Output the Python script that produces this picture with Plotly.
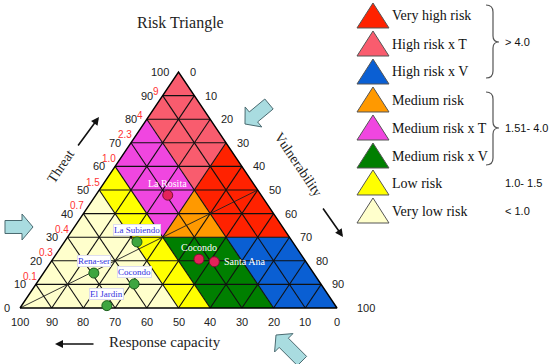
import math
import plotly.graph_objects as go

# ---------------- data ----------------
region_names = ["Very high risk", "High risk x T", "High risk x V", "Medium risk",
                "Medium risk x T", "Medium risk x V", "Low risk", "Very low risk"]
region_colors = ["#FF2200", "#F95C6E", "#0A5FD3", "#FF9900",
                 "#F046E0", "#007F00", "#FFFF00", "#FFFFCC"]
region_ranges = ["> 4.0", "", "", "1.51- 4.0", "", "", "1.0- 1.5", "< 1.0"]

# region polygons as (threat, vulnerability) vertices, in percent
very_high_T = [50, 70, 30, 30];   very_high_V = [30, 30, 70, 50]
high_t_T = [80, 100, 70, 50];     high_t_V = [0, 0, 30, 30]
high_v_T = [0, 30, 30, 0];        high_v_V = [80, 50, 70, 100]
medium_T = [30, 50, 30];          medium_V = [30, 30, 50]
medium_t_T = [60, 80, 50, 30];    medium_t_V = [0, 0, 30, 30]
medium_v_T = [0, 30, 30, 0];      medium_v_V = [60, 30, 50, 80]
low_T = [0, 0, 60, 50];           low_V = [50, 60, 0, 0]
very_low_T = [0, 0, 50];          very_low_V = [0, 50, 0]
region_T = [very_high_T, high_t_T, high_v_T, medium_T, medium_t_T, medium_v_T, low_T, very_low_T]
region_V = [very_high_V, high_t_V, high_v_V, medium_V, medium_t_V, medium_v_V, low_V, very_low_V]

threat_ticks = [0, 10, 20, 30, 40, 50, 60, 70, 80, 90, 100]
vuln_ticks = [0, 10, 20, 30, 40, 50, 60, 70, 80, 90, 100]
capacity_ticks = [100, 90, 80, 70, 60, 50, 40, 30, 20, 10, 0]
ratio_levels = [10, 20, 30, 40, 50, 60, 70, 80, 90]
ratio_labels = ["0.1", "0.3", "0.4", "0.7", "1.5", "1.0", "2.3", "4", "9"]

# diagonal reference line (threat = vulnerability)
ref_T = [0, 50]
ref_V = [0, 50]

site_names = ["La Rosita", "La Subiendo", "Rena-ser", "Cocondo", "El Jardin", "Cocondo", "Santa Ana"]
site_threat = [47.8, 28.0, 14.8, 10.2, 1.0, 20.7, 19.6]
site_vuln = [22.7, 22.9, 15.9, 30.9, 26.9, 46.1, 51.5]
site_group = ["red", "green", "green", "green", "green", "red", "red"]

# ---------------- helpers ----------------
W, H = 550, 364


def tx(t, v):
    return v + t / 2.0


def P(x, y):
    return f"{x / W:.5f},{1 - y / H:.5f}"


fig = go.Figure()

# regions
for name, col, T, V in zip(region_names, region_colors, region_T, region_V):
    xs = [tx(t, v) for t, v in zip(T, V)] + [tx(T[0], V[0])]
    ys = list(T) + [T[0]]
    fig.add_trace(go.Scatter(x=xs, y=ys, fill="toself", fillcolor=col, mode="lines",
                             line=dict(width=0, color=col), hoverinfo="skip", showlegend=False))

# grid
gx, gy = [], []
for k in threat_ticks[1:-1]:
    for (t0, v0, t1, v1) in [(k, 0, k, 100 - k), (0, k, 100 - k, k), (0, 100 - k, 100 - k, 0)]:
        gx += [tx(t0, v0), tx(t1, v1), None]
        gy += [t0, t1, None]
fig.add_trace(go.Scatter(x=gx, y=gy, mode="lines", line=dict(color="#111111", width=1.1),
                         hoverinfo="skip", showlegend=False))

# reference line
fig.add_trace(go.Scatter(x=[tx(t, v) for t, v in zip(ref_T, ref_V)], y=ref_T, mode="lines",
                         line=dict(color="#222222", width=0.9), hoverinfo="skip", showlegend=False))

# outline
fig.add_trace(go.Scatter(x=[tx(0, 0), tx(0, 100), tx(100, 0), tx(0, 0)], y=[0, 0, 100, 0],
                         mode="lines", line=dict(color="#000000", width=1.4),
                         hoverinfo="skip", showlegend=False))

# sites
for grp, fc, lc in [("green", "#3FA63F", "#1B5E1B"), ("red", "#E5235A", "#7A1030")]:
    idx = [i for i, g in enumerate(site_group) if g == grp]
    fig.add_trace(go.Scatter(x=[tx(site_threat[i], site_vuln[i]) for i in idx],
                             y=[site_threat[i] for i in idx], mode="markers",
                             marker=dict(size=10, color=fc, line=dict(color=lc, width=1)),
                             hoverinfo="skip", showlegend=False))

ann = []
# site labels
for i, nm in enumerate(site_names):
    x = tx(site_threat[i], site_vuln[i]); y = site_threat[i]
    if site_group[i] == "green":
        ann.append(dict(x=x, y=y, text=nm, showarrow=False, yshift=12,
                        xanchor="center", yanchor="middle",
                        font=dict(family="Liberation Serif", size=9, color="#3434E0"),
                        bgcolor="white", bordercolor="#DDDDEE", borderwidth=1, borderpad=0))
    else:
        if nm == "Santa Ana":
            ann.append(dict(x=x, y=y, text=nm, showarrow=False, xanchor="left", yanchor="middle",
                            xshift=8, font=dict(family="Liberation Serif", size=10, color="white")))
        else:
            ann.append(dict(x=x, y=y, text=nm, showarrow=False, yshift=12,
                            xanchor="center", yanchor="middle",
                            font=dict(family="Liberation Serif", size=10, color="white")))

tick_font = dict(family="Liberation Sans", size=11, color="#222222")
# threat ticks (left edge)
for t in threat_ticks:
    ann.append(dict(x=tx(t, 0), y=t, text=str(t), showarrow=False, xanchor="right",
                    yanchor="middle", xshift=-8, font=tick_font))
# vulnerability ticks (right edge)
for v in vuln_ticks:
    ann.append(dict(x=tx(100 - v, v), y=100 - v, text=str(v), showarrow=False, xanchor="left",
                    yanchor="middle", xshift=18 if v == 100 else 9, font=tick_font))
# capacity ticks (bottom)
for c in capacity_ticks:
    ann.append(dict(x=tx(0, 100 - c), y=0, text=str(c), showarrow=False, yshift=-14,
                    xanchor="center", yanchor="middle", font=tick_font))
# ratio labels
for lv, lab in zip(ratio_levels, ratio_labels):
    hi = lv >= 80
    ann.append(dict(x=tx(lv, 0), y=lv, text=lab, showarrow=False, xanchor="center",
                    yanchor="middle", xshift=-7 if hi else -6, yshift=4 if hi else 8,
                    font=dict(family="Liberation Sans", size=10, color="#FF3333")))

serif = "Liberation Serif"


def txt(x, y, s, size, angle=0, anchor="center", color="#222222", family=serif):
    return dict(xref="paper", yref="paper", x=x / W, y=1 - y / H, text=s, showarrow=False,
                xanchor=anchor, yanchor="middle", textangle=angle,
                font=dict(family=family, size=size, color=color))


ann.append(txt(180, 23, "Risk Triangle", 16))
ann.append(txt(61, 167, "Threat", 14, angle=-56))
ann.append(txt(298, 165, "Vulnerability", 14, angle=56))
ann.append(txt(165, 342, "Response capacity", 15))

# thin arrows
for (hx, hy, tlx, tly) in [(99, 117, 77, 147), (343, 237, 322, 207), (55, 344, 95, 344)]:
    ann.append(dict(xref="paper", yref="paper", x=hx / W, y=1 - hy / H, ax=tlx - hx, ay=tly - hy,
                    axref="pixel", ayref="pixel", text="", showarrow=True, arrowhead=2,
                    arrowsize=1, arrowwidth=1.6, arrowcolor="#111111"))

# legend
leg_y = [16, 44, 72, 100, 128, 156, 183, 211]
shapes = []
for name, col, rng, yy in zip(region_names, region_colors, region_ranges, leg_y):
    shapes.append(dict(type="path", xref="paper", yref="paper",
                       path=f"M {P(357, yy + 12)} L {P(373, yy - 13)} L {P(389, yy + 12)} Z",
                       fillcolor=col, line=dict(color="#555555", width=1)))
    ann.append(txt(390, yy, name, 14, anchor="left", color="#111111"))
    if rng:
        ry = {"> 4.0": 42, "1.51- 4.0": 128}.get(rng, yy)
        ann.append(txt(503, ry, rng, 11, anchor="left", color="#111111", family="Liberation Sans"))

# braces
for (y0, ym, y1) in [(5, 42, 78), (92, 128, 165)]:
    x0, xm, xt = 486, 493, 499
    path = (f"M {P(x0, y0)} Q {P(xm, y0)} {P(xm, y0 + 7)} L {P(xm, ym - 6)} "
            f"Q {P(xm, ym)} {P(xt, ym)} Q {P(xm, ym)} {P(xm, ym + 6)} "
            f"L {P(xm, y1 - 7)} Q {P(xm, y1)} {P(x0, y1)}")
    shapes.append(dict(type="path", xref="paper", yref="paper", path=path,
                       line=dict(color="#555555", width=1.2)))


# block arrows
def block_arrow(tipx, tipy, tailx, taily, bw=13, hw=26, hl=11):
    dx, dy = tipx - tailx, tipy - taily
    L = math.hypot(dx, dy)
    ux, uy = dx / L, dy / L
    nx, ny = -uy, ux
    bx, by = tipx - ux * hl, tipy - uy * hl
    pts = [(tailx + nx * bw / 2, taily + ny * bw / 2), (bx + nx * bw / 2, by + ny * bw / 2),
           (bx + nx * hw / 2, by + ny * hw / 2), (tipx, tipy),
           (bx - nx * hw / 2, by - ny * hw / 2), (bx - nx * bw / 2, by - ny * bw / 2),
           (tailx - nx * bw / 2, taily - ny * bw / 2)]
    return "M " + " L ".join(P(x, y) for x, y in pts) + " Z"


for (a, b, c, d) in [(33, 227, 5, 227), (245, 124, 269, 104), (276, 335, 302, 361)]:
    shapes.append(dict(type="path", xref="paper", yref="paper", path=block_arrow(a, b, c, d),
                       fillcolor="#A9DCE0", line=dict(color="#4A6A70", width=1)))

fig.update_layout(
    width=W, height=H, margin=dict(l=0, r=0, t=0, b=0),
    paper_bgcolor="white", plot_bgcolor="white",
    xaxis=dict(range=[-20 / 3.17, 530 / 3.17], visible=False, fixedrange=True),
    yaxis=dict(range=[(308 - 364) / 2.36, 308 / 2.36], visible=False, fixedrange=True),
    annotations=ann, shapes=shapes, showlegend=False, hovermode=False,
)

fig.write_html("out.html", config={"displayModeBar": False},
               post_script="document.body.style.margin='0px';")
